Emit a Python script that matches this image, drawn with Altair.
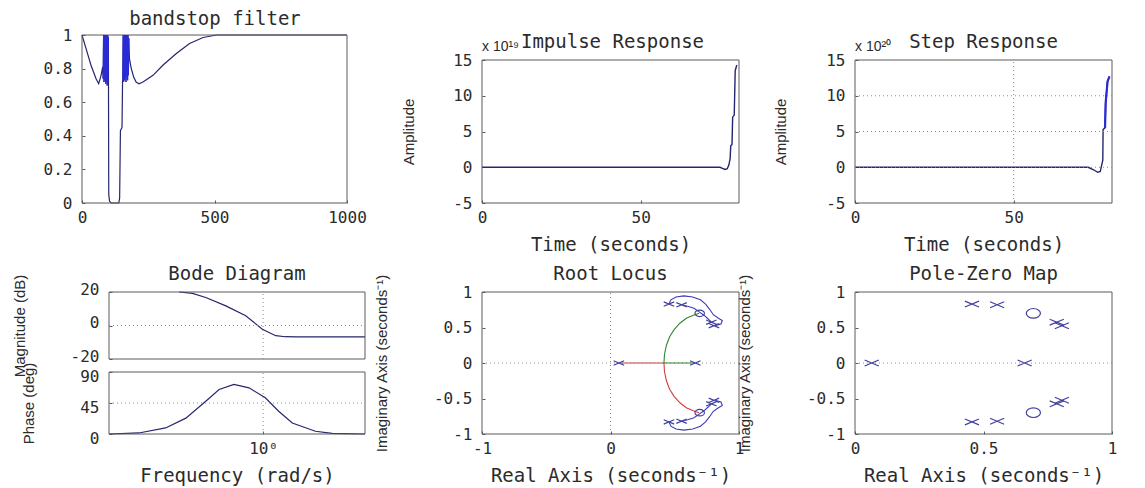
import altair as alt
import pandas as pd

# ---------------------------------------------------------------- styling
FONT_WIDE = "DejaVu Sans Mono"
FONT_TALL = "Liberation Sans"
INK = "#2b2b2b"
FRAME = "#5a5a5a"
GRID = "#8c8c8c"
NAVY = "#26266e"
BLUE = "#2a2ad6"
MARK = "#40409e"
RED = "#d83a3a"
GREEN = "#2f872f"
LOOP = "#3b3bb4"
LABEL_EXPR = "'' + datum.value"
X_PATH = "M-1,-0.42L1,0.42M-1,0.42L1,-0.42"
O_PATH = "M-1,0A1,0.68 0 1 1 1,0A1,0.68 0 1 1 -1,0Z"

# ---------------------------------------------------------------- data
# bandstop filter gain vs frequency
BAND_X = [0, 1000]
BAND_Y = [0, 1]
BAND_X_TICKS = [0, 500, 1000]
BAND_Y_TICKS = [0, 0.2, 0.4, 0.6, 0.8, 1]
BAND_HEAD_F = [0, 15, 34, 53, 63, 72, 78]
BAND_HEAD_G = [1.0, 0.92, 0.82, 0.74, 0.71, 0.76, 0.81]
BAND_BURST1_F = [80, 81.5, 83, 84.5, 86, 87.5, 89, 90.5, 92, 93.5, 95, 96.5, 98, 99.5]
BAND_BURST1_G = [0.74, 1.0, 0.72, 1.0, 0.73, 1.0, 0.71, 1.0, 0.72, 1.0, 0.70, 1.0, 0.72, 0.99]
BAND_NOTCH_F = [101, 104, 110, 125, 139, 142, 145, 151, 153]
BAND_NOTCH_G = [0.05, 0.01, 0.0, 0.0, 0.0, 0.03, 0.43, 0.45, 0.72]
BAND_BURST2_F = [154, 155.5, 157, 158.5, 160, 161.5, 163, 164.5, 166, 167.5, 169, 170.5, 172, 173.5, 175, 176.5]
BAND_BURST2_G = [0.74, 1.0, 0.72, 1.0, 0.73, 1.0, 0.74, 1.0, 0.72, 1.0, 0.75, 1.0, 0.73, 1.0, 0.76, 0.98]
BAND_TAIL_F = [179, 186, 195, 204, 215, 230, 268, 305, 356, 406, 457, 508, 600, 1000]
BAND_TAIL_G = [0.86, 0.80, 0.75, 0.72, 0.71, 0.72, 0.76, 0.82, 0.89, 0.95, 0.985, 1.0, 1.0, 1.0]

# impulse response (amplitude in units of 1e19)
IMP_X = [0, 81]
IMP_Y = [-5, 15]
IMP_T = [0, 75.0, 75.8, 76.6, 77.3, 77.8, 78.2, 78.4, 78.8, 79.0, 79.5, 79.8, 80.3]
IMP_A = [0, 0, -0.15, -0.3, -0.2, 0.3, 1.2, 3.0, 3.2, 7.0, 7.3, 13.5, 14.3]
IMP_EXP = "x 10¹⁹"

# step response (amplitude in units of 1e20)
STEP_X = [0, 81]
STEP_Y = [-5, 15]
STEP_T = [0, 73.5, 75.2, 76.5, 77.3, 77.8, 78.1, 78.2, 78.8, 79.0, 79.6, 80.2]
STEP_A = [0, 0, -0.35, -0.7, -0.6, 0.4, 1.0, 5.3, 5.5, 9.0, 12.0, 12.7]
STEP_END_T = [78.8, 79.0, 79.6, 80.2]
STEP_END_A = [5.5, 9.0, 12.0, 12.7]
STEP_GRID_Y = [0, 5, 10]
STEP_GRID_X = [50]
STEP_EXP = "x 10²⁰"
TIME_TICKS = [0, 50]
AMP_TICKS = [-5, 0, 5, 10, 15]

# Bode diagram
BODE_X = [0.25, 2.5]
BODE_MAG_Y = [-20, 20]
BODE_PH_Y = [0, 90]
BODE_MAG_TICKS = [-20, 0, 20]
BODE_PH_TICKS = [0, 45, 90]
BODE_W_TICKS = [1]
BODE_W_MAG = [0.47, 0.53, 0.597, 0.715, 0.855, 0.993, 1.12, 1.22, 1.35, 2.5]
BODE_MAG = [20.0, 19.2, 16.7, 11.7, 5.8, -2.2, -6.1, -6.7, -6.8, -6.8]
BODE_W_PH = [0.25, 0.327, 0.416, 0.499, 0.597, 0.673, 0.769, 0.881, 1.02, 1.15, 1.30, 1.60, 1.86, 2.5]
BODE_PH = [0, 1.5, 8.8, 23, 47.6, 64.6, 72, 67, 52.5, 33, 16, 4, 1, 0]
BODE_GRID_MAG = [0]
BODE_GRID_PH = [45]
BODE_GRID_W = [1]

# root locus branches
RL_X = [-1, 1]
RL_Y = [-1, 1]
RL_X_TICKS = [-1, 0, 1]
RL_Y_TICKS = [-1, -0.5, 0, 0.5, 1]
RL_RED_RE = [0.08, 0.416, 0.42, 0.435, 0.46, 0.495, 0.54, 0.59, 0.64, 0.69]
RL_RED_IM = [0, 0, -0.12, -0.25, -0.37, -0.47, -0.56, -0.63, -0.67, -0.70]
RL_GREEN_RE = [0.66, 0.416, 0.42, 0.435, 0.46, 0.495, 0.54, 0.59, 0.64, 0.69]
RL_GREEN_IM = [0, 0, 0.12, 0.25, 0.37, 0.47, 0.56, 0.63, 0.67, 0.70]
RL_LOOP_UP_RE = [0.455, 0.47, 0.51, 0.57, 0.64, 0.70, 0.74, 0.77, 0.80, 0.84, 0.87, 0.86, 0.82]
RL_LOOP_UP_IM = [0.83, 0.89, 0.93, 0.945, 0.93, 0.89, 0.83, 0.76, 0.68, 0.63, 0.60, 0.55, 0.53]
RL_LOOP_DN_RE = [0.455, 0.47, 0.51, 0.57, 0.64, 0.70, 0.74, 0.77, 0.80, 0.84, 0.87, 0.86, 0.82]
RL_LOOP_DN_IM = [-0.83, -0.89, -0.93, -0.945, -0.93, -0.89, -0.83, -0.76, -0.68, -0.63, -0.60, -0.55, -0.53]
RL_HOOK_UP_RE = [0.553, 0.60, 0.65, 0.69, 0.73, 0.76, 0.785]
RL_HOOK_UP_IM = [0.82, 0.80, 0.77, 0.72, 0.67, 0.62, 0.575]
RL_HOOK_DN_RE = [0.553, 0.60, 0.65, 0.69, 0.73, 0.76, 0.785]
RL_HOOK_DN_IM = [-0.82, -0.80, -0.77, -0.72, -0.67, -0.62, -0.575]
RL_GRID = [0]

# poles and zeros
PZ_X = [0, 1]
PZ_Y = [-1, 1]
PZ_X_TICKS = [0, 0.5, 1]
PZ_Y_TICKS = [-1, -0.5, 0, 0.5, 1]
POLE_RE = [0.065, 0.66, 0.455, 0.455, 0.553, 0.553, 0.785, 0.785, 0.805, 0.805]
POLE_IM = [0.0, 0.0, 0.83, -0.83, 0.82, -0.82, 0.575, -0.575, 0.525, -0.525]
ZERO_RE = [0.694, 0.694]
ZERO_IM = [0.70, -0.70]
PZ_GRID = [0]


# ---------------------------------------------------------------- helpers
def series(xs, ys, group="a"):
    return pd.DataFrame({"x": xs, "y": ys, "i": list(range(len(xs))), "g": group})


def qscale(domain, rng, kind="linear"):
    return alt.Scale(type=kind, domain=domain, range=rng, nice=False, zero=False)


def axis_x(values, title=None, expr=LABEL_EXPR, pad=6, title_pad=10):
    opts = dict(orient="bottom", values=values, labelExpr=expr, domain=False,
                ticks=True, tickSize=3, tickWidth=1, tickColor=FRAME, offset=-3,
                grid=False, labelFont=FONT_WIDE, labelFontSize=16, labelColor=INK,
                labelPadding=pad, labelFlush=False, labelOverlap=False)
    if title:
        opts.update(title=title, titleFont=FONT_WIDE, titleFontSize=19,
                    titleFontWeight="normal", titleColor=INK, titlePadding=title_pad)
    else:
        opts["title"] = None
    return alt.Axis(**opts)


def axis_y(values, title=None, shift=0, pad=10, title_pad=30, nudge=0):
    opts = dict(orient="left", values=values, labelExpr=LABEL_EXPR, domain=False,
                ticks=True, tickSize=3, tickWidth=1, tickColor=FRAME, offset=-3 - shift,
                grid=False, labelFont=FONT_WIDE, labelFontSize=16, labelColor=INK,
                labelPadding=pad, labelOverlap=False, labelOffset=nudge)
    if title:
        opts.update(title=title, titleFont=FONT_TALL, titleFontSize=15,
                    titleFontWeight="normal", titleColor=INK, titlePadding=title_pad)
    else:
        opts["title"] = None
    return alt.Axis(**opts)


class Panel:
    """Shared scales and axes for every layer drawn inside one set of axes."""

    def __init__(self, xs, ys, ax, ay):
        self.xs, self.ys, self.ax, self.ay = xs, ys, ax, ay

    def X(self, field):
        return alt.X(field, scale=self.xs, axis=self.ax)

    def Y(self, field):
        return alt.Y(field, scale=self.ys, axis=self.ay)

    def frame(self, xdom, ydom):
        df = pd.DataFrame({"x0": [xdom[0]], "x1": [xdom[1]], "y0": [ydom[0]], "y1": [ydom[1]]})
        return alt.Chart(df).mark_rect(fillOpacity=0, stroke=FRAME, strokeWidth=1).encode(
            x=self.X("x0:Q"), x2="x1:Q", y=self.Y("y0:Q"), y2="y1:Q")

    def hgrid(self, levels, xdom):
        df = pd.DataFrame({"y": levels, "x0": xdom[0], "x1": xdom[1]})
        return alt.Chart(df).mark_rule(color=GRID, strokeDash=[1, 3], strokeWidth=1).encode(
            x=self.X("x0:Q"), x2="x1:Q", y=self.Y("y:Q"))

    def vgrid(self, levels, ydom):
        df = pd.DataFrame({"x": levels, "y0": ydom[0], "y1": ydom[1]})
        return alt.Chart(df).mark_rule(color=GRID, strokeDash=[1, 3], strokeWidth=1).encode(
            x=self.X("x:Q"), y=self.Y("y0:Q"), y2="y1:Q")

    def trace(self, df, color, width=1.2):
        return alt.Chart(df).mark_line(color=color, strokeWidth=width).encode(
            x=self.X("x:Q"), y=self.Y("y:Q"), detail="g:N", order="i:Q")

    def markers(self, re, im, path, size):
        df = pd.DataFrame({"x": re, "y": im})
        return alt.Chart(df).mark_point(shape=path, size=size, filled=False, color=MARK,
                                        strokeWidth=1.2, opacity=1).encode(
            x=self.X("x:Q"), y=self.Y("y:Q"))

    def exponent(self, text, xdom, ydom):
        df = pd.DataFrame({"x": [xdom[0]], "y": [ydom[1]], "t": [text]})
        return alt.Chart(df).mark_text(align="left", baseline="alphabetic", dy=-9,
                                       font=FONT_TALL, fontSize=14, color=INK).encode(
            x=self.X("x:Q"), y=self.Y("y:Q"), text="t:N")


def heading(text, dx=0, dy=0):
    return alt.Title(text, font=FONT_WIDE, fontSize=19, fontWeight="normal", color=INK,
                     offset=8, dx=dx, dy=dy, frame="group")


# ---------------------------------------------------------------- bandstop filter
band = Panel(qscale(BAND_X, [0, 265]), qscale(BAND_Y, [168, 0]),
             axis_x(BAND_X_TICKS), axis_y(BAND_Y_TICKS))
band_curve = series(BAND_HEAD_F + BAND_BURST1_F + BAND_NOTCH_F + BAND_BURST2_F + BAND_TAIL_F,
                    BAND_HEAD_G + BAND_BURST1_G + BAND_NOTCH_G + BAND_BURST2_G + BAND_TAIL_G)
band_bursts = pd.concat([series(BAND_BURST1_F, BAND_BURST1_G, "b1"),
                         series(BAND_BURST2_F, BAND_BURST2_G, "b2")])
p1 = alt.layer(
    band.trace(band_curve, NAVY, 1.2),
    band.frame(BAND_X, BAND_Y),
    band.trace(band_bursts, BLUE, 1.2),
).properties(width=284, height=168, title=heading("bandstop filter", dx=-9, dy=10))

# ---------------------------------------------------------------- impulse response
imp = Panel(qscale(IMP_X, [0, 257]), qscale(IMP_Y, [168, 25]),
            axis_x(TIME_TICKS, "Time (seconds)"),
            axis_y(AMP_TICKS, "Amplitude", title_pad=36))
p2 = alt.layer(
    imp.trace(series(IMP_T, IMP_A), NAVY, 1.4),
    imp.frame(IMP_X, IMP_Y),
    imp.exponent(IMP_EXP, IMP_X, IMP_Y),
).properties(width=257, height=168, title=heading("Impulse Response", dx=2, dy=25))

# ---------------------------------------------------------------- step response
stp = Panel(qscale(STEP_X, [0, 257]), qscale(STEP_Y, [168, 25]),
            axis_x(TIME_TICKS, "Time (seconds)"),
            axis_y(AMP_TICKS, "Amplitude", title_pad=37))
p3 = alt.layer(
    stp.trace(series(STEP_T, STEP_A), NAVY, 1.4),
    stp.frame(STEP_X, STEP_Y),
    stp.hgrid(STEP_GRID_Y, STEP_X),
    stp.vgrid(STEP_GRID_X, STEP_Y),
    stp.trace(series(STEP_END_T, STEP_END_A), BLUE, 2.2),
    stp.exponent(STEP_EXP, STEP_X, STEP_Y),
).properties(width=257, height=168, title=heading("Step Response", dy=25))

# ---------------------------------------------------------------- Bode diagram
wx = qscale(BODE_X, [27, 283], "log")
w_axis = axis_x(BODE_W_TICKS, "Frequency  (rad/s)", expr="'10⁰'")
mag = Panel(wx, qscale(BODE_MAG_Y, [67, 0]), w_axis,
            axis_y(BODE_MAG_TICKS, "Magnitude (dB)", shift=27, title_pad=43, nudge=-3))
pha = Panel(wx, qscale(BODE_PH_Y, [142, 80]), w_axis,
            axis_y(BODE_PH_TICKS, "Phase (deg)", shift=27, title_pad=43, nudge=4))
bode_mag = alt.layer(
    mag.trace(series(BODE_W_MAG, BODE_MAG), NAVY, 1.2),
    mag.frame(BODE_X, BODE_MAG_Y),
    mag.hgrid(BODE_GRID_MAG, BODE_X),
    mag.vgrid(BODE_GRID_W, BODE_MAG_Y),
)
bode_ph = alt.layer(
    pha.trace(series(BODE_W_PH, BODE_PH), NAVY, 1.2),
    pha.frame(BODE_X, BODE_PH_Y),
    pha.hgrid(BODE_GRID_PH, BODE_X),
    pha.vgrid(BODE_GRID_W, BODE_PH_Y),
)
p4 = alt.layer(bode_ph, bode_mag).resolve_scale(y="independent").properties(
    width=284, height=142, title=heading("Bode Diagram", dx=13, dy=18))

# ---------------------------------------------------------------- root locus
rl = Panel(qscale(RL_X, [0, 257]), qscale(RL_Y, [142, 0]),
           axis_x(RL_X_TICKS, "Real Axis (seconds⁻¹)"),
           axis_y(RL_Y_TICKS, "Imaginary Axis (seconds⁻¹)", title_pad=44))
rl_loops = pd.concat([series(RL_LOOP_UP_RE, RL_LOOP_UP_IM, "lu"),
                      series(RL_LOOP_DN_RE, RL_LOOP_DN_IM, "ld"),
                      series(RL_HOOK_UP_RE, RL_HOOK_UP_IM, "hu"),
                      series(RL_HOOK_DN_RE, RL_HOOK_DN_IM, "hd")])
p5 = alt.layer(
    rl.trace(series(RL_RED_RE, RL_RED_IM), RED, 1.1),
    rl.frame(RL_X, RL_Y),
    rl.hgrid(RL_GRID, RL_X),
    rl.vgrid(RL_GRID, RL_Y),
    rl.trace(series(RL_GREEN_RE, RL_GREEN_IM), GREEN, 1.1),
    rl.trace(rl_loops, LOOP, 1.1),
    rl.markers(POLE_RE, POLE_IM, X_PATH, 110),
    rl.markers(ZERO_RE, ZERO_IM, O_PATH, 90),
).properties(width=257, height=142, title=heading("Root Locus", dy=18))

# ---------------------------------------------------------------- pole-zero map
pz = Panel(qscale(PZ_X, [0, 257]), qscale(PZ_Y, [142, 0]),
           axis_x(PZ_X_TICKS, "Real Axis (seconds⁻¹)"),
           axis_y(PZ_Y_TICKS, "Imaginary Axis (seconds⁻¹)", title_pad=54))
p6 = alt.layer(
    pz.markers(POLE_RE, POLE_IM, X_PATH, 200),
    pz.frame(PZ_X, PZ_Y),
    pz.hgrid(PZ_GRID, PZ_X),
    pz.markers(ZERO_RE, ZERO_IM, O_PATH, 200),
).properties(width=257, height=142, title=heading("Pole-Zero Map", dy=18))

# ---------------------------------------------------------------- figure
chart = alt.concat(
    p1, p2, p3, p4, p5, p6,
    columns=3, spacing={"row": 89, "column": 116}, bounds="flush", align="each",
).configure_view(strokeWidth=0).properties(
    padding={"left": 12, "top": 10, "right": 5, "bottom": 2}, background="white")

chart.save("out.html", embed_options={"renderer": "svg", "actions": False})
